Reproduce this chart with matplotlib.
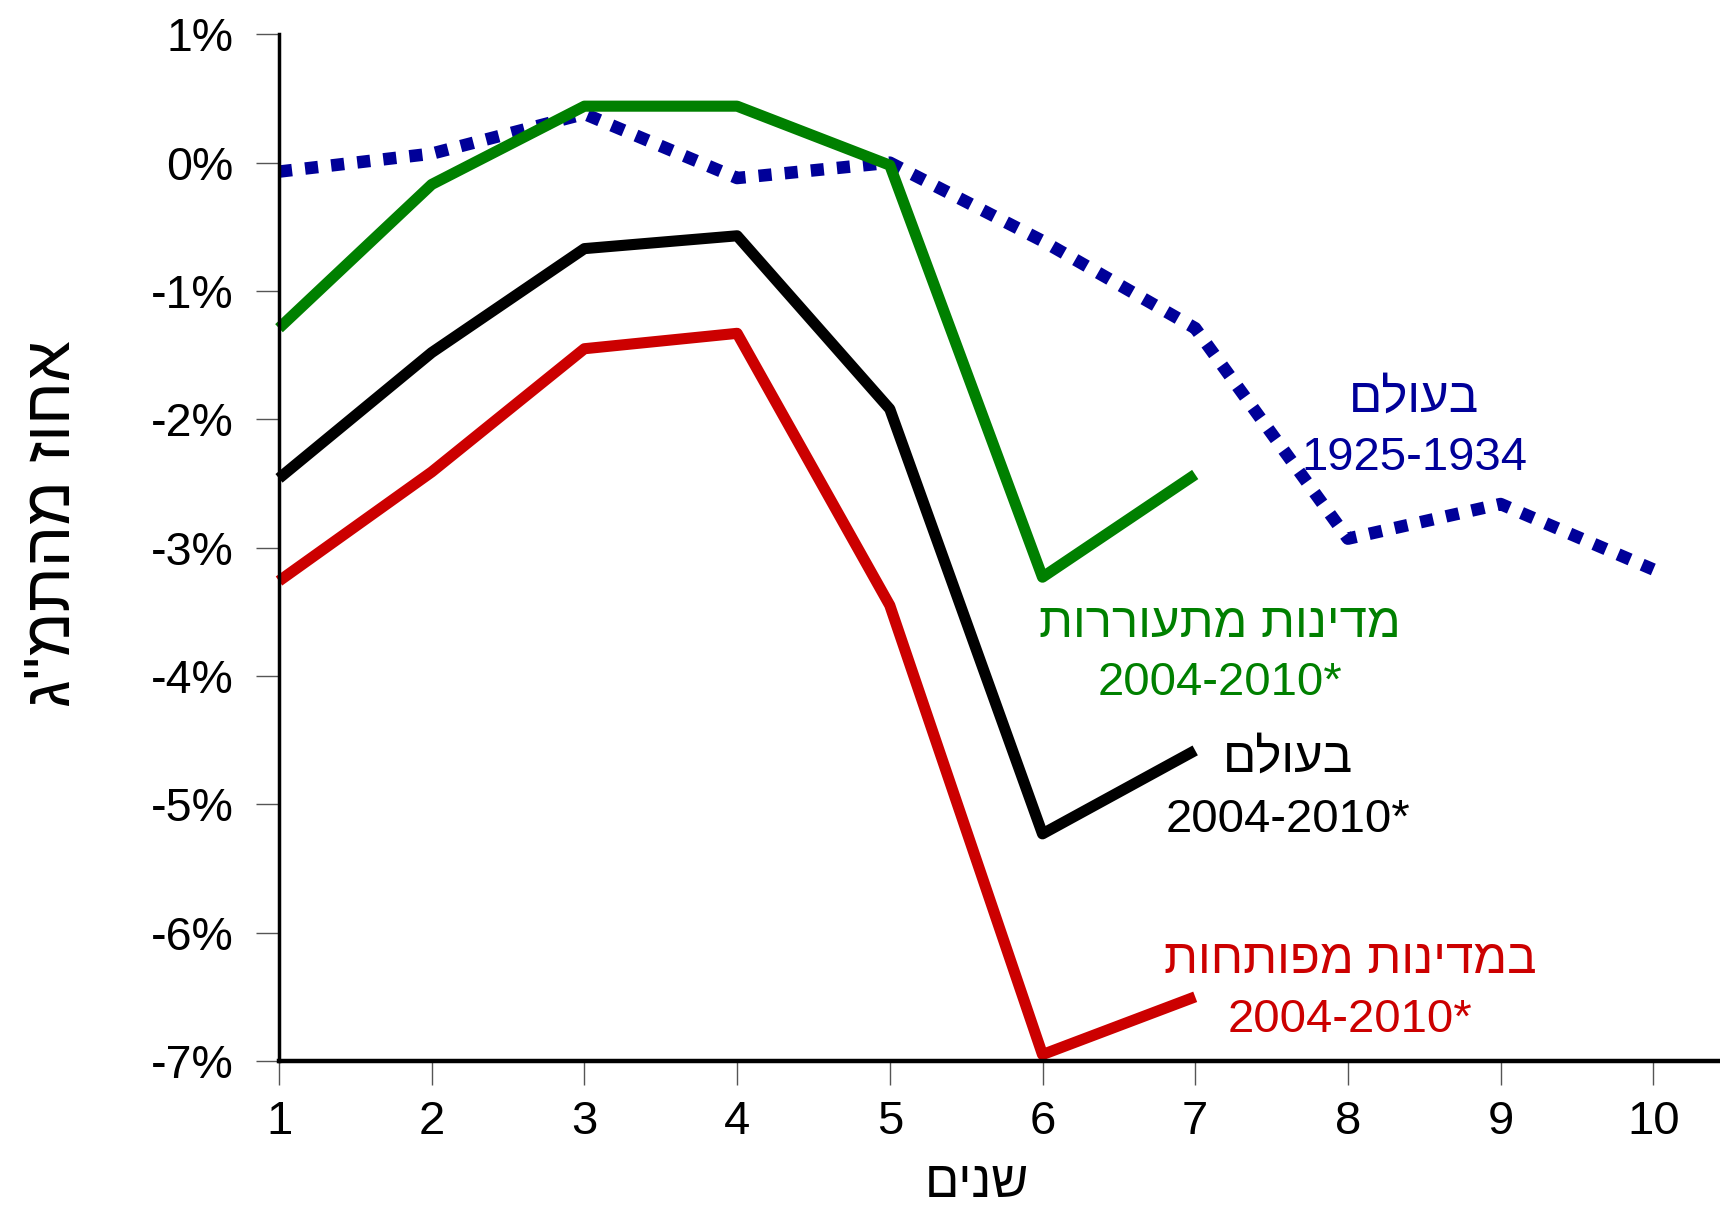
import matplotlib
matplotlib.use("Agg")
import matplotlib.pyplot as plt

plt.rcParams['font.family'] = ['Liberation Sans', 'DejaVu Sans']

# ---- data ----
years = [1, 2, 3, 4, 5, 6, 7, 8, 9, 10]
years_2004 = [1, 2, 3, 4, 5, 6, 7]
world_1925 = [-0.07, 0.07, 0.38, -0.12, 0.0, -0.61, -1.29, -2.93, -2.66, -3.17]
emerging_2004 = [-1.29, -0.17, 0.44, 0.44, -0.02, -3.23, -2.43]
world_2004 = [-2.46, -1.48, -0.67, -0.57, -1.92, -5.23, -4.58]
developed_2004 = [-3.26, -2.41, -1.45, -1.33, -3.45, -6.95, -6.50]

y_ticks = [-7, -6, -5, -4, -3, -2, -1, 0, 1]
y_tick_labels = ["-7%", "-6%", "-5%", "-4%", "-3%", "-2%", "-1%", "0%", "1%"]
x_ticks = years
x_tick_labels = [str(v) for v in years]

y_title = 'אחוז מהתמ"ג'
x_title = 'שנים'
lbl_world_1925 = ['בעולם', '1925-1934']
lbl_emerging = ['מדינות מתעוררות', '2004-2010*']
lbl_world_2004 = ['בעולם', '2004-2010*']
lbl_developed = ['במדינות מפותחות', '2004-2010*']

C_BLUE = '#000099'
C_GREEN = '#008000'
C_BLACK = '#000000'
C_RED = '#CC0000'


def is_heb(s):
    return any('\u0590' <= ch <= '\u05FF' for ch in s)


def vis(s):
    """Hebrew visual order for matplotlib (no bidi support)."""
    return s[::-1] if is_heb(s) else s


W, H = 1720, 1208
fig = plt.figure(figsize=(W / 100, H / 100), dpi=100)
ax_left, ax_bottom_px, ax_top_px = 279, 1061, 34.3
ax = fig.add_axes([ax_left / W, (H - ax_bottom_px) / H,
                   1 - ax_left / W, (ax_bottom_px - ax_top_px) / H])

ax.set_xlim(1, 1 + (W - ax_left) / 152.7)
ax.set_ylim(-7, 1)

# lines
ax.plot(years, world_1925, color=C_BLUE, lw=9, dashes=(1.05, 1.05),
        dash_capstyle='butt', clip_on=False, zorder=2)
ax.plot(years_2004, developed_2004, color=C_RED, lw=8,
        solid_capstyle='butt', solid_joinstyle='round', clip_on=False, zorder=3)
ax.plot(years_2004, world_2004, color=C_BLACK, lw=8,
        solid_capstyle='butt', solid_joinstyle='round', clip_on=False, zorder=3)
ax.plot(years_2004, emerging_2004, color=C_GREEN, lw=8,
        solid_capstyle='butt', solid_joinstyle='round', clip_on=False, zorder=4)

# spines
for s in ['top', 'right']:
    ax.spines[s].set_visible(False)
ax.spines['left'].set_linewidth(2.5)
ax.spines['bottom'].set_linewidth(3.2)
ax.spines['left'].set_zorder(5)
ax.spines['bottom'].set_zorder(5)

ax.set_yticks(y_ticks)
ax.set_yticklabels(y_tick_labels)
ax.set_xticks(x_ticks)
ax.set_xticklabels(x_tick_labels)
ax.tick_params(axis='y', direction='out', length=16.5, width=1, color='#555555',
               pad=16, labelsize=33.5)
ax.tick_params(axis='x', direction='out', length=17, width=1, color='#555555',
               pad=11, labelsize=34)

# axis titles
fig.text(70 / W, 1 - 524 / H, vis(y_title), rotation=90, rotation_mode='anchor',
         ha='center', va='baseline', fontsize=47)
fig.text(977 / W, 1 - 1197 / H, vis(x_title), ha='center', va='baseline', fontsize=36.5)


def px2data(px, py):
    return 1 + (px - ax_left) / 152.7, (163.3 - py) / 128.2


def label(lines, cx, baselines, color):
    for t, by in zip(lines, baselines):
        x, y = px2data(cx, by)
        ax.text(x, y, vis(t), ha='center', va='baseline',
                fontsize=35.5 if is_heb(t) else 34, color=color)


label(lbl_world_1925, 1414, [412, 470], C_BLUE)
label(lbl_emerging, 1220, [637, 695], C_GREEN)
label(lbl_world_2004, 1288, [772, 832], C_BLACK)
label(lbl_developed, 1350, [973, 1032], C_RED)

fig.savefig('out.png', dpi=100)
